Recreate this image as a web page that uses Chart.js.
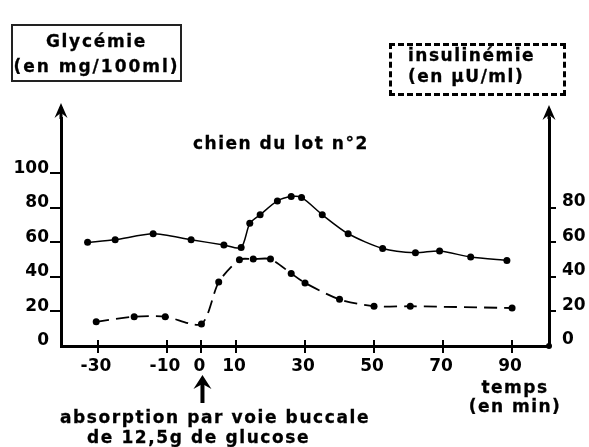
<!DOCTYPE html>
<html>
<head>
<meta charset="utf-8">
<script src="https://cdn.jsdelivr.net/npm/chart.js@4/dist/chart.umd.min.js"></script>
<style>
  html, body { margin: 0; padding: 0; background: #fff; }
  #wrap { position: relative; width: 589px; height: 447px; overflow: hidden; }
  canvas { position: absolute; left: 0; top: 0; }
  .t { position: absolute; font-family: "DejaVu Sans", sans-serif; font-weight: bold; font-size: 17px;
       line-height: 20px; color: #000; white-space: nowrap; letter-spacing: 1.7px;
       -webkit-text-stroke: 0.3px #000; }
  .box { position: absolute; box-sizing: border-box; }
</style>
</head>
<body>
<div id="wrap">
  <canvas id="c" width="589" height="447"></canvas>
  <div class="box" style="left:11px;top:24px;width:171px;height:58px;border:2px solid #222;"></div>
  <div class="t" style="left:11px;width:171px;text-align:center;top:31px;">Glycémie</div>
  <div class="t" style="left:11px;width:171px;text-align:center;top:56px;letter-spacing:2px;">(en mg/100ml)</div>
  <div class="box" style="left:389px;top:43px;width:177px;height:53px;border:3px dashed #000;"></div>
  <div class="t" style="left:408px;top:45px;letter-spacing:1.5px;">insulinémie</div>
  <div class="t" style="left:408px;top:66px;letter-spacing:1.5px;">(en µU/ml)</div>
  <div class="t" style="left:193px;top:133px;letter-spacing:1.5px;">chien du lot n°2</div>
  <div class="t" style="left:440px;width:150px;text-align:center;top:377px;letter-spacing:1.5px;">temps</div>
  <div class="t" style="left:440px;width:150px;text-align:center;top:396px;letter-spacing:1.5px;">(en min)</div>
  <div class="t" style="left:60px;top:407px;letter-spacing:1.6px;">absorption par voie buccale</div>
  <div class="t" style="left:87px;top:427px;letter-spacing:1.6px;">de 12,5g de glucose</div>
</div>
<script>
// ---- data ----
const glyTime = [-33, -25, -14, -3, 6.5, 11.5, 14, 17, 22, 26, 29, 35, 42.5, 52.5, 62, 69, 78, 88.5];
const glyValue = [60, 61.5, 65, 61.5, 58.5, 57, 71, 76, 84, 86.5, 86, 76, 65, 56.5, 54, 55, 51.5, 49.5];
const insTime = [-30.5, -19.5, -10.5, 0, 5, 11, 15, 20, 26, 30, 40, 50, 60.5, 90];
const insValue = [14, 17, 17, 12.7, 37, 50, 50.3, 50.3, 42, 36.5, 27, 23, 23, 22];
const xTickValues = [-30, -10, 0, 10, 30, 50, 70, 90];
const leftTickValues = [0, 20, 40, 60, 80, 100];
const rightTickValues = [0, 20, 40, 60, 80];

const tickFont = { family: 'DejaVu Sans', weight: 'bold', size: 17 };

function arrowUp(ctx, x, yTip, yTail, headW, headH, shaftW) {
  ctx.fillRect(x - shaftW / 2, yTip + 4, shaftW, yTail - yTip - 4);
  ctx.beginPath();
  ctx.moveTo(x, yTip);
  ctx.lineTo(x + headW / 2, yTip + headH);
  ctx.lineTo(x, yTip + headH * 0.65);
  ctx.lineTo(x - headW / 2, yTip + headH);
  ctx.closePath();
  ctx.fill();
}

const decor = {
  id: 'decor',
  afterDraw(chart) {
    const ctx = chart.ctx, xs = chart.scales.x, a = chart.chartArea;
    ctx.save();
    ctx.strokeStyle = '#000';
    ctx.fillStyle = '#000';
    ctx.lineWidth = 2;
    xs.ticks.forEach(t => {
      const px = Math.round(xs.getPixelForValue(t.value));
      ctx.beginPath();
      ctx.moveTo(px, a.bottom - 6);
      ctx.lineTo(px, a.bottom + 7);
      ctx.stroke();
    });
    arrowUp(ctx, a.left, 103, a.top + 1, 13, 15, 3);
    arrowUp(ctx, a.right, 105, a.top + 1, 13, 15, 3);
    arrowUp(ctx, xs.getPixelForValue(0) + 1, 375, 403, 18, 14, 4);
    ctx.beginPath();
    ctx.arc(a.right, a.bottom, 3, 0, Math.PI * 2);
    ctx.fill();
    ctx.restore();
  }
};

new Chart(document.getElementById('c'), {
  type: 'line',
  data: {
    datasets: [
      {
        label: 'Glycémie',
        data: glyTime.map((t, i) => ({ x: t, y: glyValue[i] })),
        yAxisID: 'y',
        borderColor: '#000', borderWidth: 1.5,
        pointRadius: 3.5, pointBackgroundColor: '#000', pointBorderColor: '#000', pointBorderWidth: 0,
        tension: 0.25, fill: false
      },
      {
        label: 'Insulinémie',
        data: insTime.map((t, i) => ({ x: t, y: insValue[i] })),
        yAxisID: 'y2',
        borderColor: '#000', borderWidth: 1.8, borderDash: [13, 7],
        pointRadius: 3.5, pointBackgroundColor: '#000', pointBorderColor: '#000', pointBorderWidth: 0,
        tension: 0.25, fill: false
      }
    ]
  },
  options: {
    responsive: false,
    animation: false,
    devicePixelRatio: 1,
    layout: { padding: { top: 118, left: 0, right: 0, bottom: 0 } },
    plugins: { legend: { display: false }, tooltip: { enabled: false }, title: { display: false } },
    scales: {
      x: {
        type: 'linear', min: -40.7, max: 100.7,
        afterBuildTicks: s => { s.ticks = xTickValues.map(v => ({ value: v })); },
        afterFit: s => { s.height = 101; },
        grid: { display: true, drawOnChartArea: false, drawTicks: false },
        border: { display: true, color: '#000', width: 3 },
        ticks: { font: tickFont, color: '#000', padding: 10, maxRotation: 0, autoSkip: false, labelOffset: -2 }
      },
      y: {
        type: 'linear', position: 'left', min: 0, max: 132,
        afterBuildTicks: s => { s.ticks = leftTickValues.map(v => ({ value: v })); },
        afterFit: s => { s.width = 61; },
        grid: { drawOnChartArea: false, drawTicks: true, tickLength: 11, lineWidth: 2,
                color: c => (c.tick && c.tick.value === 0) ? 'rgba(0,0,0,0)' : '#000' },
        border: { display: true, color: '#000', width: 3 },
        ticks: { font: tickFont, color: '#000', padding: 1, labelOffset: -5, autoSkip: false }
      },
      y2: {
        type: 'linear', position: 'right', min: 0, max: 132,
        afterBuildTicks: s => { s.ticks = rightTickValues.map(v => ({ value: v })); },
        afterFit: s => { s.width = 40; },
        grid: { drawOnChartArea: false, drawTicks: true, tickLength: 7, lineWidth: 2,
                color: c => (c.tick && c.tick.value === 0) ? 'rgba(0,0,0,0)' : '#000' },
        border: { display: true, color: '#000', width: 3, dash: [10, 7] },
        ticks: { font: tickFont, color: '#000', padding: 6, labelOffset: -6, autoSkip: false }
      }
    }
  },
  plugins: [decor]
});
</script>
</body>
</html>
